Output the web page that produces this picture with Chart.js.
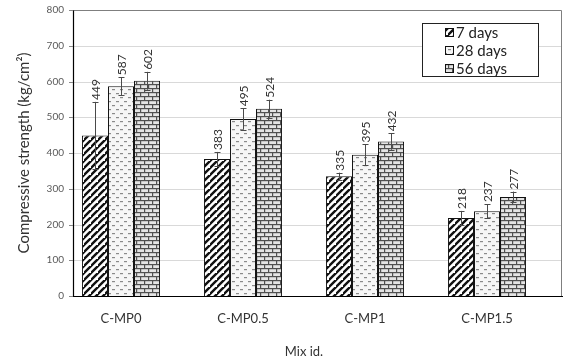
<!DOCTYPE html>
<html>
<head>
<meta charset="utf-8">
<script src="https://cdn.jsdelivr.net/npm/chart.js@4"></script>
<style>
  html, body { margin: 0; padding: 0; background: #fff; }
</style>
</head>
<body>
<canvas id="c" width="566" height="363"></canvas>
<script>
// Mix designs and compressive strength by curing age
const mixes = ['C-MP0', 'C-MP0.5', 'C-MP1', 'C-MP1.5'];
const seriesNames = ['7 days', '28 days', '56 days'];
const strength7 = [449, 383, 335, 218];
const strength28 = [587, 495, 395, 237];
const strength56 = [602, 524, 432, 277];
// standard deviation shown as error bars
const err7 = [94, 20, 10, 20];
const err28 = [25, 30, 29, 20];
const err56 = [25, 25, 23, 15];
const yTicks = [0, 100, 200, 300, 400, 500, 600, 700, 800];

const FONT = 'Lato, "Liberation Sans", sans-serif';

function makeTile(w, h, draw) {
  const c = document.createElement('canvas');
  c.width = w; c.height = h;
  const g = c.getContext('2d');
  draw(g, w, h);
  return c.getContext('2d').createPattern(c, 'repeat');
}

// diagonal hatching
const hatch = makeTile(7, 7, (g, w, h) => {
  g.fillStyle = '#fff'; g.fillRect(0, 0, w, h);
  g.strokeStyle = '#111'; g.lineWidth = 2.4; g.lineCap = 'square';
  g.beginPath();
  g.moveTo(-1, h + 1); g.lineTo(w + 1, -1);
  g.moveTo(-w - 1, h + 1); g.lineTo(1, -1);
  g.moveTo(w - 1, 2 * h + 1); g.lineTo(2 * w + 1, h - 1);
  g.stroke();
});
// small staggered dashes
const dashes = makeTile(8, 8, (g, w, h) => {
  g.fillStyle = '#f6f6f6'; g.fillRect(0, 0, w, h);
  g.fillStyle = '#8a8a8a';
  g.fillRect(0, 1, 3, 1.2);
  g.fillRect(4, 5, 3, 1.2);
});
// brick
const brick = makeTile(16, 8, (g, w, h) => {
  g.fillStyle = '#e4e4e4'; g.fillRect(0, 0, w, h);
  g.fillStyle = '#505050';
  g.fillRect(0, 0, w, 1.2);
  g.fillRect(0, 4, w, 1.2);
  g.fillRect(0, 0, 1.2, 4);
  g.fillRect(8, 0, 1.2, 4);
  g.fillRect(4, 4, 1.2, 4);
  g.fillRect(12, 4, 1.2, 4);
});

const fills = [hatch, dashes, brick];
const values = [strength7, strength28, strength56];
const errors = [err7, err28, err56];

// plot frame geometry (pixels)
const FRAME_LEFT = 73, FRAME_RIGHT = 561;

const decor = {
  id: 'decor',
  beforeDatasetsDraw(chart) {
    const { ctx, scales: { y } } = chart;
    ctx.save();
    ctx.strokeStyle = '#d9d9d9';
    ctx.lineWidth = 1;
    yTicks.forEach(v => {
      if (v === 0 || v === 800) return;
      const py = Math.round(y.getPixelForValue(v)) + 0.5;
      ctx.beginPath(); ctx.moveTo(FRAME_LEFT, py); ctx.lineTo(FRAME_RIGHT, py); ctx.stroke();
    });
    // y tick labels
    ctx.fillStyle = '#595959';
    ctx.font = '10px ' + FONT;
    ctx.textAlign = 'right';
    ctx.textBaseline = 'middle';
    yTicks.forEach(v => {
      ctx.fillText(String(v), 64, y.getPixelForValue(v));
    });
    ctx.restore();
  },
  afterDatasetsDraw(chart) {
    const { ctx, scales: { y } } = chart;
    ctx.save();
    // error bars
    ctx.strokeStyle = '#4a4a4a';
    ctx.lineWidth = 1;
    chart.data.datasets.forEach((ds, di) => {
      const meta = chart.getDatasetMeta(di);
      meta.data.forEach((bar, i) => {
        const v = ds.data[i], e = errors[di][i];
        const x = Math.round(bar.x) + 0.5;
        const t = y.getPixelForValue(v + e), b = y.getPixelForValue(v - e);
        ctx.beginPath();
        ctx.moveTo(x, t); ctx.lineTo(x, b);
        ctx.moveTo(x - 3, Math.round(t) + 0.5); ctx.lineTo(x + 3, Math.round(t) + 0.5);
        ctx.moveTo(x - 3, Math.round(b) + 0.5); ctx.lineTo(x + 3, Math.round(b) + 0.5);
        ctx.stroke();
      });
    });
    // value labels, rotated
    ctx.fillStyle = '#333';
    ctx.font = '12px ' + FONT;
    ctx.textAlign = 'left';
    ctx.textBaseline = 'middle';
    chart.data.datasets.forEach((ds, di) => {
      const meta = chart.getDatasetMeta(di);
      meta.data.forEach((bar, i) => {
        const v = ds.data[i], e = errors[di][i];
        const py = y.getPixelForValue(v + e) - 2;
        ctx.save();
        ctx.translate(bar.x + 1, py);
        ctx.rotate(-Math.PI / 2);
        ctx.fillText(String(v), 0, 0);
        ctx.restore();
      });
    });
    // frame and axes
    const top = Math.round(y.getPixelForValue(800)) + 0.5;
    const bot = Math.round(y.getPixelForValue(0)) + 0.5;
    ctx.lineWidth = 1;
    ctx.strokeStyle = '#7f7f7f';
    ctx.beginPath();
    ctx.moveTo(FRAME_LEFT, top); ctx.lineTo(FRAME_RIGHT + 0.5, top); ctx.lineTo(FRAME_RIGHT + 0.5, bot);
    ctx.stroke();
    ctx.strokeStyle = '#000';
    ctx.lineWidth = 1.2;
    ctx.beginPath();
    ctx.moveTo(FRAME_LEFT + 0.5, top); ctx.lineTo(FRAME_LEFT + 0.5, bot);
    ctx.moveTo(69, bot); ctx.lineTo(FRAME_RIGHT + 2, bot);
    ctx.stroke();
    ctx.strokeStyle = '#888';
    ctx.lineWidth = 1;
    yTicks.forEach(v => {
      const py = Math.round(y.getPixelForValue(v)) + 0.5;
      ctx.beginPath(); ctx.moveTo(69, py); ctx.lineTo(FRAME_LEFT, py); ctx.stroke();
    });
    // legend
    const lx = 422.5, ly = 23.5, lw = 116, lh = 53;
    ctx.fillStyle = '#fff';
    ctx.fillRect(lx, ly, lw, lh);
    ctx.strokeStyle = '#222';
    ctx.strokeRect(lx, ly, lw, lh);
    ctx.font = '15px ' + FONT;
    ctx.textBaseline = 'middle';
    ctx.textAlign = 'left';
    const rows = [32, 50, 68];
    seriesNames.forEach((name, k) => {
      const cy = rows[k];
      ctx.fillStyle = fills[k];
      ctx.fillRect(445, cy - 4, 8, 8);
      ctx.strokeStyle = '#111';
      ctx.strokeRect(445.5, cy - 3.5, 8, 8);
      ctx.fillStyle = '#222';
      ctx.fillText(name, 456, cy + 1);
    });
    ctx.restore();
  }
};

new Chart(document.getElementById('c'), {
  type: 'bar',
  data: {
    labels: mixes,
    datasets: seriesNames.map((name, k) => ({
      label: name,
      data: values[k],
      backgroundColor: fills[k],
      borderColor: '#111',
      borderWidth: 1,
      barPercentage: 1,
      categoryPercentage: 0.64
    }))
  },
  options: {
    responsive: false,
    animation: false,
    devicePixelRatio: 1,
    layout: { padding: { top: 10, right: 18, left: 0, bottom: 0 } },
    plugins: { legend: { display: false }, tooltip: { enabled: false } },
    scales: {
      x: {
        grid: { display: false, drawTicks: false },
        border: { display: false },
        ticks: { color: '#333', font: { family: FONT, size: 13 }, padding: 15, maxRotation: 0 },
        title: { display: true, text: 'Mix id.', color: '#333', font: { family: FONT, size: 13 }, padding: { top: 0, bottom: 3 } },
        afterFit(s) { s.height = 67; }
      },
      y: {
        min: 0, max: 800,
        grid: { display: false, drawTicks: false },
        border: { display: false },
        ticks: { display: false },
        afterBuildTicks(s) { s.ticks = yTicks.map(v => ({ value: v })); },
        title: { display: true, text: 'Compressive strength (kg/cm²)', color: '#333', font: { family: FONT, size: 15 }, padding: { top: 15, bottom: 0 } },
        afterFit(s) { s.width = 60; }
      }
    }
  },
  plugins: [decor]
});
</script>
</body>
</html>
